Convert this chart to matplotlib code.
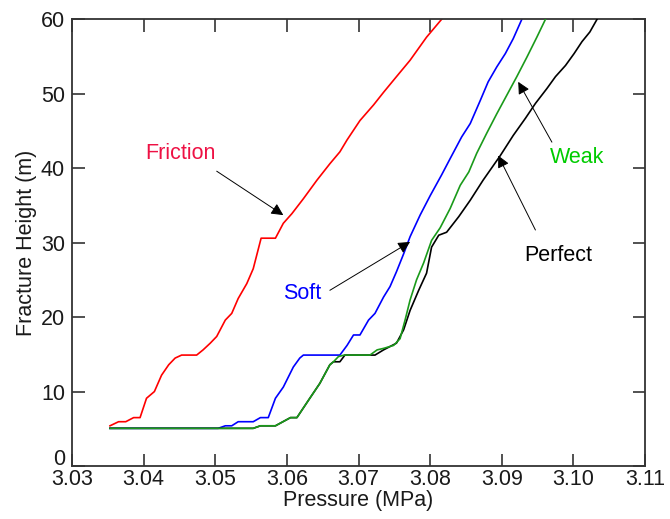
import matplotlib
matplotlib.use("Agg")
import matplotlib.pyplot as plt
import matplotlib.transforms as mtransforms

# ---- data ----
friction_p = [3.0353, 3.0365, 3.0375, 3.0386, 3.0395, 3.0404, 3.0415, 3.0425, 3.0435, 3.0444,
              3.0453, 3.0474, 3.0483, 3.0493, 3.0502, 3.0514, 3.0523, 3.0532, 3.0544, 3.0553,
              3.0564, 3.0584, 3.0595, 3.0607, 3.0623, 3.0642, 3.0660, 3.0674, 3.0684, 3.0702,
              3.0721, 3.0735, 3.0753, 3.0772, 3.0795, 3.0816]
friction_h = [5.4, 5.95, 5.95, 6.5, 6.5, 9.1, 10.0, 12.2, 13.6, 14.5,
              14.9, 14.9, 15.6, 16.5, 17.4, 19.6, 20.5, 22.5, 24.5, 26.5,
              30.6, 30.6, 32.6, 33.9, 35.9, 38.4, 40.6, 42.2, 43.8, 46.4,
              48.5, 50.2, 52.3, 54.5, 57.6, 60.0]

soft_p = [3.0353, 3.0504, 3.0514, 3.0523, 3.0532, 3.0553, 3.0563, 3.0574, 3.0584, 3.0595,
          3.0609, 3.0618, 3.0623, 3.0674, 3.0684, 3.0693, 3.0702, 3.0714, 3.0723, 3.0735,
          3.0744, 3.0753, 3.0763, 3.0772, 3.0786, 3.0800, 3.0816, 3.0828, 3.0844, 3.0856,
          3.0870, 3.0881, 3.0893, 3.0905, 3.0916, 3.0928]
soft_h = [5.06, 5.06, 5.4, 5.4, 5.95, 5.95, 6.5, 6.5, 9.1, 10.6,
          13.3, 14.5, 14.9, 14.9, 16.2, 17.6, 17.6, 19.6, 20.5, 22.7,
          24.1, 26.1, 28.5, 30.8, 33.7, 36.3, 39.1, 41.3, 44.2, 46.0,
          49.1, 51.6, 53.6, 55.4, 57.4, 60.0]

weak_p = [3.0353, 3.0553, 3.0563, 3.0584, 3.0605, 3.0614, 3.0632, 3.0646, 3.0660, 3.0665,
          3.0672, 3.0680, 3.0716, 3.0726, 3.0735, 3.0749, 3.0758, 3.0765, 3.0772, 3.0781,
          3.0791, 3.0802, 3.0814, 3.0828, 3.0842, 3.0854, 3.0865, 3.0879, 3.0893, 3.0907,
          3.0921, 3.0935, 3.0949, 3.0961]
weak_h = [5.06, 5.06, 5.4, 5.4, 6.5, 6.5, 9.1, 11.1, 13.6, 14.0,
          14.7, 14.9, 14.9, 15.6, 15.8, 16.2, 17.1, 19.6, 22.3, 25.0,
          27.3, 30.3, 32.0, 34.6, 37.7, 39.5, 42.0, 44.7, 47.3, 49.8,
          52.3, 54.9, 57.6, 60.0]

perfect_p = [3.0353, 3.0553, 3.0563, 3.0584, 3.0605, 3.0614, 3.0632, 3.0646, 3.0660, 3.0665,
             3.0674, 3.0681, 3.0723, 3.0735, 3.0753, 3.0763, 3.0772, 3.0784, 3.0795, 3.0802,
             3.0812, 3.0823, 3.0840, 3.0856, 3.0874, 3.0898, 3.0916, 3.0933, 3.0947, 3.0963,
             3.0975, 3.0989, 3.1001, 3.1012, 3.1023, 3.1033]
perfect_h = [5.06, 5.06, 5.4, 5.4, 6.5, 6.5, 9.1, 11.1, 13.6, 14.0,
             14.0, 14.9, 14.9, 15.6, 16.5, 18.3, 20.9, 23.6, 25.9, 29.4,
             31.0, 31.4, 33.5, 35.7, 38.4, 41.7, 44.4, 46.7, 48.7, 50.7,
             52.3, 53.8, 55.4, 57.0, 58.3, 60.0]

x_ticks = [3.03, 3.04, 3.05, 3.06, 3.07, 3.08, 3.09, 3.10, 3.11]
x_tick_labels = ["3.03", "3.04", "3.05", "3.06", "3.07", "3.08", "3.09", "3.10", "3.11"]
y_ticks = [0, 10, 20, 30, 40, 50, 60]

plt.rcParams['font.family'] = ['Liberation Sans', 'DejaVu Sans']

fig = plt.figure(figsize=(6.70, 5.19), dpi=100)
ax = fig.add_axes([0.1075, 0.1021, 0.8552, 0.8607])

lw = 1.2
ax.plot(perfect_p, perfect_h, color='black', lw=lw, zorder=3)
ax.plot(weak_p, weak_h, color='#1a9a1a', lw=lw, zorder=4)
ax.plot(soft_p, soft_h, color='#0000ff', lw=lw, zorder=2)
ax.plot(friction_p, friction_h, color='#ff0000', lw=lw, zorder=2)

ax.set_xlim(3.03, 3.11)
ax.set_ylim(0, 60)
ax.set_xticks(x_ticks)
ax.set_xticklabels(x_tick_labels)
ax.set_yticks(y_ticks)

fs = 15.5
ax.tick_params(direction='in', length=9, width=1.2, top=True, right=True,
               labelsize=fs, color='#333333', labelcolor='#1a1a1a')
ax.tick_params(axis='x', pad=2)
ax.tick_params(axis='y', pad=5)
for s in ax.spines.values():
    s.set_linewidth(1.3)
    s.set_color('#333333')

# lift the "0" label a little, as in the reference
fig.canvas.draw()
ylabels = ax.get_yticklabels()
off = mtransforms.ScaledTranslation(0, 9 / 100, fig.dpi_scale_trans)
ylabels[0].set_transform(ylabels[0].get_transform() + off)

ax.set_xlabel("Pressure (MPa)", fontsize=fs, labelpad=0, color='#1a1a1a')
ax.set_ylabel("Fracture Height (m)", fontsize=fs, labelpad=3, color='#1a1a1a')

arrow = dict(arrowstyle='-|>', color='black', lw=0.7, mutation_scale=18,
             shrinkA=0, shrinkB=0)
ax.annotate("", xy=(3.0595, 33.7), xytext=(3.0502, 39.6), arrowprops=arrow)
ax.text(3.0452, 42.0, "Friction", color='#ee1144', fontsize=fs, ha='center', va='center')

ax.annotate("", xy=(3.0772, 30.1), xytext=(3.0660, 23.6), arrowprops=arrow)
ax.text(3.0621, 23.2, "Soft", color='#0000ff', fontsize=fs, ha='center', va='center')

ax.annotate("", xy=(3.0923, 51.6), xytext=(3.0970, 43.5), arrowprops=arrow)
ax.text(3.1005, 41.5, "Weak", color='#00cc00', fontsize=fs, ha='center', va='center')

ax.annotate("", xy=(3.0895, 41.7), xytext=(3.0947, 31.7), arrowprops=arrow)
ax.text(3.0979, 28.3, "Perfect", color='black', fontsize=fs, ha='center', va='center')

fig.savefig("out.png", dpi=100)
